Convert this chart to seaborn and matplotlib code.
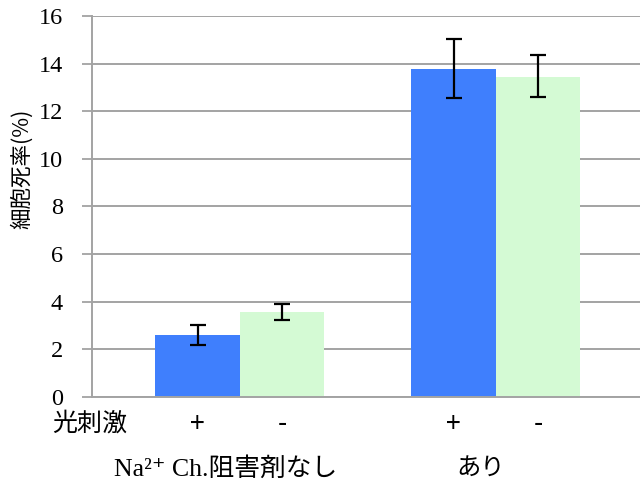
import pandas as pd
import numpy as np
import seaborn as sns
import matplotlib.pyplot as plt
import matplotlib.transforms as mtransforms

# data
groups = ['Na²⁺ Ch.阻害剤なし', 'あり']
stim = ['+', '-']
rate = [2.6, 3.57, 13.78, 13.45]          # order: group1 +, group1 -, group2 +, group2 -
err_low = [0.42, 0.33, 1.22, 0.85]
err_high = [0.43, 0.33, 1.26, 0.92]
yticks = [0, 2, 4, 6, 8, 10, 12, 14, 16]

blue = '#3f7ffd'
green = '#d4fad4'
grid_gray = '#a3a3a3'
cjk = ['Noto Sans CJK JP', 'DejaVu Sans']

df = pd.DataFrame({
    'group': [groups[0], groups[0], groups[1], groups[1]],
    'stim': stim * 2,
    'rate': rate,
})

sns.set_style('white')
plt.rcParams['font.family'] = ['Liberation Serif', 'Noto Sans CJK JP', 'DejaVu Sans']
plt.rcParams['text.color'] = 'black'

fig = plt.figure(figsize=(6.4, 4.86), dpi=100)
ax = fig.add_axes([92 / 640, 1 - 397 / 486, 1 - 92 / 640, (397 - 16) / 486])

sns.barplot(data=df, x='group', y='rate', hue='stim', hue_order=stim,
            palette=[blue, green], width=0.66, errorbar=None, legend=False,
            saturation=1, ax=ax, zorder=2)

# error bars at the bar centers, sorted left to right
bars = sorted(ax.patches, key=lambda p: p.get_x())
for p in bars:
    p.set_edgecolor('none')
xs = [p.get_x() + p.get_width() / 2 for p in bars]
ax.errorbar(xs, rate, yerr=[err_low, err_high], fmt='none', ecolor='black',
            elinewidth=1.6, capsize=5.8, capthick=1.6, zorder=3)

ax.set_xlim(-0.578, 1.563)
ax.set_ylim(0, 16)
ax.set_yticks(yticks)
ax.set_yticklabels([str(t) for t in yticks], fontsize=17.5, family='Liberation Serif',
                   color='black')
ax.tick_params(axis='y', length=7, width=1.3, color=grid_gray, pad=14, left=True)
ax.yaxis.grid(True, color=grid_gray, linewidth=1.4, zorder=0)
ax.set_axisbelow(True)
ax.set_xticks([])
ax.set_xlabel('')
ax.set_ylabel('細胞死率(%)', fontsize=15.5, family=cjk, color='black')
ax.yaxis.set_label_coords((33 - 92) / 548, (397 - 169) / 381)

for s in ['top', 'right']:
    ax.spines[s].set_visible(False)
ax.spines['left'].set_color(grid_gray)
ax.spines['left'].set_linewidth(1.4)
ax.spines['bottom'].set_color(grid_gray)
ax.spines['bottom'].set_linewidth(1.4)

# row labels under the axis
trans = mtransforms.blended_transform_factory(ax.transData, fig.transFigure)
for x, s in zip(xs, stim * 2):
    ax.text(x, 1 - 424 / 486, s, transform=trans, ha='center', va='center',
            fontsize=19, family=cjk)
fig.text(90 / 640, 1 - 424 / 486, '光刺激', ha='center', va='center', fontsize=18,
         family=cjk)
fig.text(226 / 640, 1 - 469 / 486, groups[0], ha='center', va='center', fontsize=18.5)
fig.text(481 / 640, 1 - 469 / 486, groups[1], ha='center', va='center', fontsize=17.5,
         family=cjk)

fig.savefig('out.png', dpi=100)
